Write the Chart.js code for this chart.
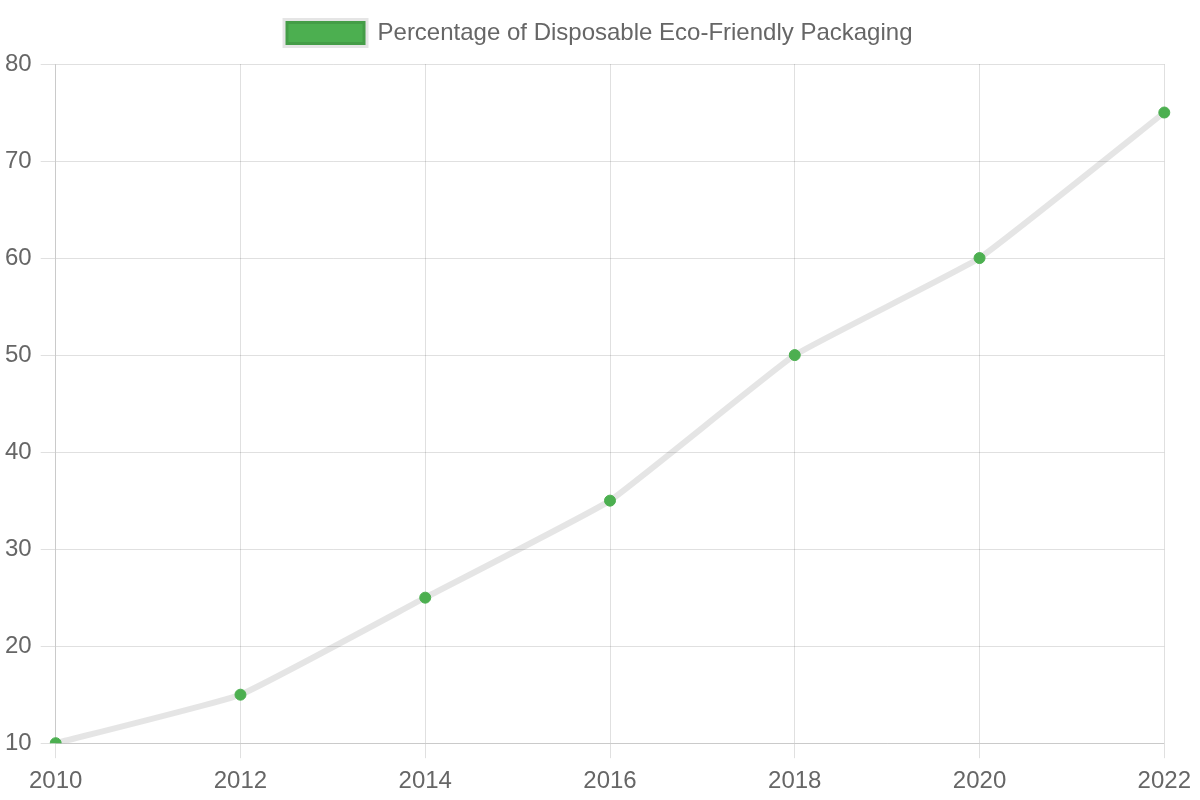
<!DOCTYPE html>
<html>
<head>
<meta charset="utf-8">
<script src="https://cdn.jsdelivr.net/npm/chart.js@4"></script>
<style>
  html, body { margin: 0; padding: 0; background: #fff; }
  #wrap { width: 1200px; height: 800px; }
</style>
</head>
<body>
<div id="wrap"><canvas id="chart"></canvas></div>
<script>
const years = ['2010', '2012', '2014', '2016', '2018', '2020', '2022'];
const ecoShare = [10, 15, 25, 35, 50, 60, 75];
const seriesName = 'Percentage of Disposable Eco-Friendly Packaging';

Chart.defaults.font.size = 24;
Chart.defaults.color = '#666';

// a bit of extra room under the legend
const legendGap = {
    id: 'legendGap',
    beforeInit(chart) {
        const fit = chart.legend.fit;
        chart.legend.fit = function () {
            fit.bind(chart.legend)();
            this.height += 9;
        };
    }
};

const data = {
    labels: years,
    datasets: [{
        label: seriesName,
        data: ecoShare,
        backgroundColor: '#4CAF50',
        borderColor: 'rgba(0, 0, 0, 0.1)',
        borderWidth: 6,
        pointBackgroundColor: '#4CAF50',
        pointBorderColor: '#4CAF50',
        pointBorderWidth: 1,
        pointRadius: 5.5,
        tension: 0.1
    }]
};

const config = {
    type: 'line',
    data: data,
    plugins: [legendGap],
    options: {
        responsive: true,
        maintainAspectRatio: false,
        animation: false,
        layout: { padding: { left: -4, right: -2, bottom: -5 } },
        plugins: {
            legend: {
                labels: { boxWidth: 80, boxHeight: 24, padding: 21 }
            }
        },
        scales: {
            x: {
                grid: { color: 'rgba(0,0,0,0.12)', tickLength: 15 },
                ticks: { padding: 9 }
            },
            y: {
                min: 10,
                max: 80,
                ticks: { stepSize: 10, padding: 9 },
                grid: { color: 'rgba(0,0,0,0.12)', tickLength: 15 }
            }
        }
    }
};

new Chart(document.getElementById('chart'), config);
</script>
</body>
</html>
